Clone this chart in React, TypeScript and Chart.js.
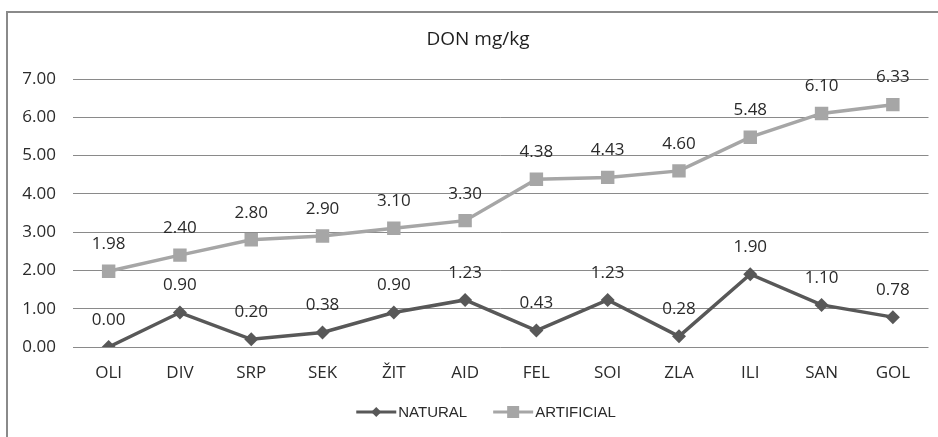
import React, { useEffect, useRef } from "react";
import { Chart, registerables } from "chart.js";

Chart.register(...registerables);

const categories = ["OLI", "DIV", "SRP", "SEK", "ŽIT", "AID", "FEL", "SOI", "ZLA", "ILI", "SAN", "GOL"];
const naturalValues = [0.0, 0.9, 0.2, 0.38, 0.9, 1.23, 0.43, 1.23, 0.28, 1.9, 1.1, 0.78];
const artificialValues = [1.98, 2.4, 2.8, 2.9, 3.1, 3.3, 4.38, 4.43, 4.6, 5.48, 6.1, 6.33];
const chartTitle = "DON mg/kg";
const seriesNames = ["NATURAL", "ARTIFICIAL"];
const yMin = 0;
const yMax = 7;
const yStep = 1;

const FONT = "'Open Sans', sans-serif";
const TEXT = "#2a2a2a";
const NAT_COLOR = "#585858";
const ART_COLOR = "#a6a6a6";

const framePlugin = {
  id: "frame",
  beforeDraw(chart: any) {
    const ctx = chart.ctx;
    ctx.save();
    ctx.fillStyle = "#ffffff";
    ctx.fillRect(0, 0, chart.width, chart.height);
    ctx.strokeStyle = "#8a8a8a";
    ctx.lineWidth = 2;
    ctx.strokeRect(7, 12, 940, 440);
    ctx.restore();
  },
  afterDraw(chart: any) {
    const ctx = chart.ctx;
    ctx.save();
    ctx.fillStyle = "#1e1e1e";
    ctx.font = `19px ${FONT}`;
    ctx.textAlign = "center";
    ctx.textBaseline = "middle";
    ctx.fillText(chartTitle, 478, 40);

    // legend
    ctx.font = "15px 'Liberation Sans', Arial, sans-serif";
    ctx.textBaseline = "middle";
    ctx.textAlign = "left";
    const ly = 412;
    const items = chart.data.datasets.map((ds: any) => ({
      label: ds.label,
      color: ds.borderColor,
      style: ds.pointStyle,
      radius: ds.legendRadius,
    }));
    const lineLen = 40;
    const gapAfterLine = 2;
    const gapBetween = 26;
    const widths = items.map((it: any) => lineLen + gapAfterLine + ctx.measureText(it.label).width);
    const total = widths.reduce((a: number, b: number) => a + b, 0) + gapBetween * (items.length - 1);
    let x = 486 - total / 2;
    items.forEach((it: any, i: number) => {
      ctx.strokeStyle = it.color;
      ctx.lineWidth = 3;
      ctx.beginPath();
      ctx.moveTo(x, ly);
      ctx.lineTo(x + lineLen, ly);
      ctx.stroke();
      ctx.fillStyle = it.color;
      const cx = x + lineLen / 2;
      ctx.beginPath();
      if (it.style === "rectRot") {
        const r = it.radius;
        ctx.moveTo(cx, ly - r);
        ctx.lineTo(cx + r, ly);
        ctx.lineTo(cx, ly + r);
        ctx.lineTo(cx - r, ly);
        ctx.closePath();
      } else {
        const s = it.radius;
        ctx.rect(cx - s, ly - s, 2 * s, 2 * s);
      }
      ctx.fill();
      ctx.fillStyle = "#2a2a2a";
      ctx.fillText(it.label, x + lineLen + gapAfterLine, ly + 1);
      x += widths[i] + gapBetween;
    });
    ctx.restore();
  },
};

const labelPlugin = {
  id: "valueLabels",
  afterDatasetsDraw(chart: any) {
    const ctx = chart.ctx;
    ctx.save();
    ctx.font = `17px ${FONT}`;
    ctx.fillStyle = TEXT;
    ctx.textAlign = "center";
    ctx.textBaseline = "middle";
    chart.data.datasets.forEach((ds: any, di: number) => {
      const meta = chart.getDatasetMeta(di);
      meta.data.forEach((pt: any, i: number) => {
        const v = ds.data[i];
        ctx.fillText(Number(v).toFixed(2), pt.x, pt.y - 27);
      });
    });
    ctx.restore();
  },
};

export default function App() {
  const ref = useRef<HTMLCanvasElement | null>(null);
  useEffect(() => {
    if (!ref.current) return;
    const chart = new Chart(ref.current, {
      type: "line",
      data: {
        labels: categories,
        datasets: [
          {
            label: seriesNames[0],
            data: naturalValues,
            borderColor: NAT_COLOR,
            backgroundColor: NAT_COLOR,
            borderWidth: 3.5,
            pointStyle: "rectRot",
            pointRadius: 7,
            pointBorderWidth: 0,
            pointBackgroundColor: NAT_COLOR,
            legendRadius: 5,
            tension: 0,
          } as any,
          {
            label: seriesNames[1],
            data: artificialValues,
            borderColor: ART_COLOR,
            backgroundColor: ART_COLOR,
            borderWidth: 3.5,
            pointStyle: "rect",
            pointRadius: 9.5,
            pointBorderWidth: 0,
            pointBackgroundColor: ART_COLOR,
            legendRadius: 6,
            tension: 0,
          } as any,
        ],
      },
      options: {
        animation: false,
        responsive: false,
        events: [],
        layout: { padding: { left: 0, right: 8, top: 79, bottom: 0 } },
        plugins: {
          legend: { display: false },
          title: { display: false },
          tooltip: { enabled: false },
        },
        scales: {
          x: {
            offset: true,
            grid: { display: false, drawTicks: false },
            border: { display: false },
            ticks: {
              font: { family: FONT, size: 17 },
              color: TEXT,
              padding: 16,
              maxRotation: 0,
              autoSkip: false,
            },
            afterFit(scale: any) {
              scale.height = 90;
            },
          },
          y: {
            min: yMin,
            max: yMax,
            grid: { color: "#8a8a8a", lineWidth: 1, drawTicks: false },
            border: { display: false },
            ticks: {
              stepSize: yStep,
              font: { family: FONT, size: 17 },
              color: TEXT,
              padding: 17,
              callback: (v: any) => Number(v).toFixed(2),
            },
            afterFit(scale: any) {
              scale.width = 73;
            },
          },
        },
      },
      plugins: [framePlugin, labelPlugin],
    });
    return () => chart.destroy();
  }, []);
  return (
    <div style={{ position: "fixed", left: 0, top: 0, width: 938, height: 437, background: "#fff" }}>
      <canvas ref={ref} width={938} height={437} style={{ display: "block" }} />
    </div>
  );
}
